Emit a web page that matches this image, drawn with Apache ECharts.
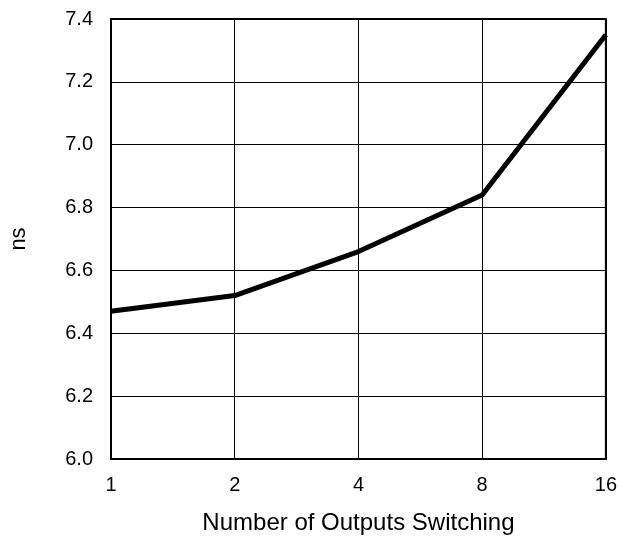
<!DOCTYPE html>
<html>
<head>
<meta charset="utf-8">
<script src="https://cdn.jsdelivr.net/npm/echarts@6/dist/echarts.min.js"></script>
<style>html,body{margin:0;padding:0;background:#fff}#c{width:620px;height:540px}</style>
</head>
<body>
<div id="c"></div>
<script>
const categories = ['1', '2', '4', '8', '16'];
const nsValues = [6.47, 6.52, 6.66, 6.84, 7.35];
const xTitle = 'Number of Outputs Switching';
const yTitle = 'ns';

const chart = echarts.init(document.getElementById('c'), null, {renderer: 'canvas'});
const font = 'Liberation Sans, Arial, sans-serif';
chart.setOption({
  animation: false,
  backgroundColor: '#fff',
  grid: {left: 101, right: 11, top: 19, bottom: 78, show: true, borderColor: '#000', borderWidth: 2, containLabel: false},
  xAxis: {
    type: 'category', data: categories, boundaryGap: false,
    name: xTitle, nameLocation: 'middle', nameGap: 52,
    nameTextStyle: {fontFamily: font, fontSize: 24, color: '#000'},
    axisLine: {show: true, lineStyle: {color: '#000', width: 2}},
    axisTick: {show: false},
    axisLabel: {fontFamily: font, fontSize: 20, color: '#000', margin: 16},
    splitLine: {show: true, lineStyle: {color: '#000', width: 1}}
  },
  yAxis: {
    type: 'value', min: 6.0, max: 7.4, interval: 0.2,
    name: yTitle, nameLocation: 'middle', nameGap: 81, nameRotate: 90,
    nameTextStyle: {fontFamily: font, fontSize: 22, color: '#000'},
    axisLine: {show: true, lineStyle: {color: '#000', width: 2}},
    axisTick: {show: false},
    axisLabel: {fontFamily: font, fontSize: 20, color: '#000', margin: 18, padding: [0, 0, 8, 0], formatter: v => v.toFixed(1)},
    splitLine: {show: true, lineStyle: {color: '#000', width: 1}}
  },
  series: [{
    type: 'line', data: nsValues, showSymbol: false, symbol: 'none',
    lineStyle: {color: '#000', width: 5}, clip: false
  }]
});
</script>
</body>
</html>
